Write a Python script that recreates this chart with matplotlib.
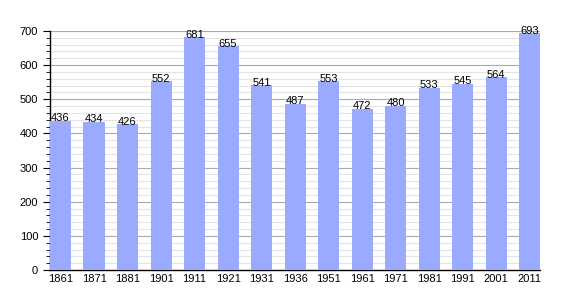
import matplotlib
matplotlib.use("Agg")
import matplotlib.pyplot as plt
from matplotlib.ticker import MultipleLocator

years = ["1861", "1871", "1881", "1901", "1911", "1921", "1931", "1936", "1951",
         "1961", "1971", "1981", "1991", "2001", "2011"]
population = [436, 434, 426, 552, 681, 655, 541, 487, 553, 472, 480, 533, 545, 564, 693]

plt.rcParams['font.family'] = ['Liberation Sans', 'DejaVu Sans']
fig = plt.figure(figsize=(5.7, 3.0), dpi=100)
ax = fig.add_axes([0.0877, 0.1, 0.86, 0.797])

bw = 0.63
x = list(range(len(years)))
ax.bar(x, population, width=bw, align='edge', color='#99aaff', zorder=3)
for xi, v in zip(x, population):
    ax.text(xi + bw / 2, v - 7, str(v), ha='center', va='bottom', fontsize=8, zorder=4)

ax.set_xlim(0, len(years) - 1 + bw)
ax.set_ylim(0, 700)
ax.set_xticks([xi + bw / 2 for xi in x])
ax.set_xticklabels(years, fontsize=8)
ax.tick_params(axis='x', length=0, pad=3)
ax.yaxis.set_major_locator(MultipleLocator(100))
ax.yaxis.set_minor_locator(MultipleLocator(20))
ax.tick_params(axis='y', which='major', length=5, labelsize=8, direction='out')
ax.tick_params(axis='y', which='minor', length=3, direction='out')
ax.grid(axis='y', which='major', color='#aaaaaa', linewidth=0.8, zorder=0)
ax.grid(axis='y', which='minor', color='#e4e4e4', linewidth=0.8, zorder=0)
for s in ['top', 'right']:
    ax.spines[s].set_visible(False)
ax.spines['left'].set_linewidth(1)
ax.spines['bottom'].set_linewidth(1)

fig.savefig("out.png", dpi=100)
